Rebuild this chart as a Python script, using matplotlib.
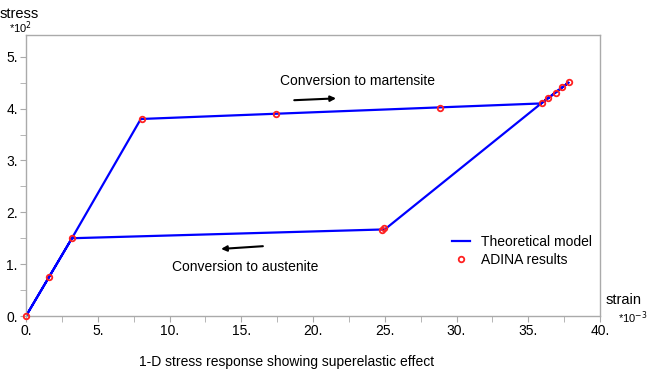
import numpy as np
from matplotlib import pyplot as plt
from matplotlib.ticker import MultipleLocator, FuncFormatter

plt.rcParams['font.family'] = ['Liberation Sans', 'DejaVu Sans']

# strain in 1e-3, stress in 1e2
model_strain = [0.0, 3.2, 8.0, 35.9, 37.8, 35.9, 25.0, 3.2, 0.0]
model_stress = [0.0, 1.5, 3.8, 4.1, 4.5, 4.1, 1.67, 1.5, 0.0]

adina_strain = [0.0, 1.6, 3.2, 8.05, 17.4, 28.85, 35.95, 36.4, 36.9, 37.35, 37.85, 24.8, 24.95]
adina_stress = [0.0, 0.76, 1.5, 3.8, 3.9, 4.01, 4.11, 4.21, 4.31, 4.42, 4.52, 1.65, 1.69]

x_ticks = [0, 5, 10, 15, 20, 25, 30, 35, 40]
y_ticks = [0, 1, 2, 3, 4, 5]

fig = plt.figure(figsize=(6.5, 3.82), dpi=100)
ax = fig.add_axes([26/650, 1 - 316/382, (600-26)/650, (316-35)/382])

ax.plot(model_strain, model_stress, color='#0000ff', lw=1.6, label='Theoretical model', zorder=2)
ax.plot(adina_strain, adina_stress, ls='none', marker='o', ms=4, mfc='none', mec='#ff2020',
        mew=1.3, label='ADINA results', zorder=3, clip_on=False)

ax.set_xlim(0, 40)
ax.set_ylim(0, 5.42)
ax.set_xticks(x_ticks)
ax.set_yticks(y_ticks)
ax.xaxis.set_minor_locator(MultipleLocator(2.5))
ax.yaxis.set_minor_locator(MultipleLocator(0.5))
fmt = FuncFormatter(lambda v, p: f"{int(round(v))}.")
ax.xaxis.set_major_formatter(fmt)
ax.yaxis.set_major_formatter(fmt)
ax.tick_params(which='both', direction='out', color='#aaaaaa', labelsize=10)
ax.tick_params(which='major', length=4)
ax.tick_params(which='minor', length=4)
ax.tick_params(axis='x', pad=2)
ax.tick_params(axis='y', pad=2)
for s in ax.spines.values():
    s.set_color('#aaaaaa')
    s.set_linewidth(1)

# axis labels placed like the original
fig.text(0 / 650, 1 - 14 / 382, 'stress', fontsize=10.5, va='center', ha='left')
fig.text(9 / 650, 1 - 28 / 382, r'*10$^{2}$', fontsize=8, va='center', ha='left')
fig.text(606 / 650, 1 - 300 / 382, 'strain', fontsize=10.5, va='center', ha='left')
fig.text(618 / 650, 1 - 318 / 382, r'*10$^{-3}$', fontsize=8, va='center', ha='left')

ax.text(17.7, 4.53, 'Conversion to martensite', fontsize=10, ha='left', va='center')
ax.annotate('', xy=(21.8, 4.2), xytext=(18.5, 4.16),
            arrowprops=dict(arrowstyle='-|>', color='black', lw=1.5, mutation_scale=8))
ax.text(10.2, 0.95, 'Conversion to austenite', fontsize=10, ha='left', va='center')
ax.annotate('', xy=(13.4, 1.29), xytext=(16.7, 1.35),
            arrowprops=dict(arrowstyle='-|>', color='black', lw=1.5, mutation_scale=8))

ax.legend(loc='lower left', bbox_to_anchor=(0.72, 0.13), frameon=False, fontsize=10,
          handlelength=1.3, handletextpad=0.8, labelspacing=0.3)

fig.text(287 / 650, 1 - 362 / 382, '1-D stress response showing superelastic effect',
         fontsize=10, ha='center', va='center')

fig.savefig('out.png', dpi=100)
